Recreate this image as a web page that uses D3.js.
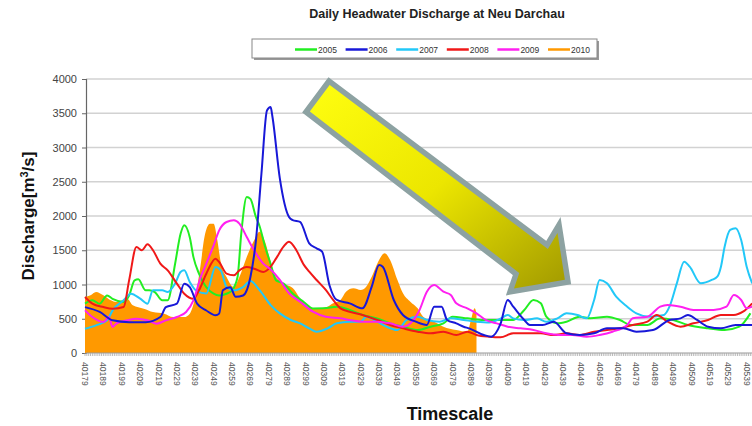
<!DOCTYPE html>
<html>
<head>
<meta charset="utf-8">
<script src="https://cdn.jsdelivr.net/npm/d3@7"></script>
<style>
  body { margin: 0; background: #fff; }
  svg { display: block; font-family: "Liberation Sans", Arial, sans-serif; }
</style>
</head>
<body>
<svg id="chart" width="752" height="426"></svg>
<script>
// series: day offset from 40179 and discharge in m3/s
var days2005 = [0,4,8,12,15,21,24,27,29,33,35,38,42,45,49,52,54,57,59,62,66,70,73,77,80,83,85,88,90,93,95,98,101,104,108,113,119,124,130,137,144,151,159,166,173,181,188,195,200,208,217,226,233,239,244,248,251,257,262,269,275,284,291,297,306,313,320,328,339,348,356,362];
var q2005 = [720,770,720,840,790,745,840,1060,1075,915,915,890,770,770,1300,1740,1865,1690,1400,1160,960,865,840,865,915,1110,1740,2277,2250,1985,1850,1550,1300,1060,1015,870,745,650,652,676,628,555,506,433,384,336,384,433,530,506,482,482,482,628,774,725,530,433,457,530,506,530,482,409,409,506,482,409,360,336,384,579];

var days2006 = [0,8,15,24,33,41,44,50,54,57,61,66,71,73,75,79,82,86,90,93,96,99,101,102,106,111,113,117,122,126,129,133,137,144,151,156,160,162,168,173,180,186,190,194,197,202,206,209,217,221,226,230,233,239,242,249,255,262,269,277,284,293,300,309,318,324,328,333,339,346,354,363];
var q2006 = [670,600,477,450,450,525,670,720,1010,960,720,620,550,575,915,960,820,840,1110,1645,2620,3540,3590,3445,2550,1985,1940,1915,1600,1528,1480,990,774,725,652,968,1285,1260,774,555,457,409,676,676,482,433,384,360,263,238,420,774,676,482,409,409,457,287,263,287,360,360,311,336,482,506,555,482,384,360,409,409];

var days2007 = [0,6,12,15,21,25,30,34,37,42,45,49,52,54,57,61,66,71,74,77,81,86,90,95,101,106,112,117,122,126,132,137,144,150,153,159,164,170,175,181,186,193,199,206,213,220,226,230,233,239,246,251,257,262,268,273,277,280,284,289,295,300,307,315,318,322,326,329,335,341,344,346,348,351,354,357,360,363];
var q2007 = [355,404,477,623,769,866,793,720,915,915,890,1012,1182,1207,1036,900,870,1255,1200,963,915,963,1050,918,700,579,482,433,360,311,360,433,457,457,530,457,384,336,482,530,482,457,506,482,457,445,500,555,506,482,506,457,506,579,555,506,774,1066,1017,822,676,579,530,555,676,1017,1333,1260,1017,1066,1114,1260,1552,1796,1820,1650,1260,1017];

var days2008 = [0,4,10,15,21,24,28,31,34,37,41,45,50,54,59,62,66,71,73,77,81,84,88,92,97,101,104,108,111,115,119,122,126,131,135,139,144,151,159,166,173,181,188,195,202,208,213,220,226,233,240,248,255,262,269,277,284,291,298,306,311,317,324,331,339,346,353,358,363];
var q2008 = [817,720,671,647,671,1060,1547,1500,1586,1500,1304,1207,1012,866,793,915,1158,1377,1328,1158,1134,1207,1255,1231,1182,1260,1382,1552,1625,1500,1290,1187,1066,920,774,652,603,555,482,409,360,311,287,311,263,311,263,238,230,287,287,287,263,287,263,311,336,360,409,457,555,457,384,433,482,555,555,603,725];

var days2009 = [0,4,10,13,15,17,23,28,34,39,44,50,55,59,63,66,70,73,77,81,84,88,92,97,101,106,111,117,124,131,139,144,151,159,166,173,178,182,186,190,195,199,202,208,213,218,224,230,237,244,251,258,265,273,280,287,295,298,306,313,317,324,331,342,349,353,357,360,363];
var q2009 = [623,525,452,525,380,428,477,500,477,428,477,525,598,769,1110,1304,1572,1790,1912,1937,1888,1693,1499,1304,1220,1066,871,749,603,530,506,482,457,457,433,384,457,628,895,993,895,847,725,652,579,482,433,384,360,336,287,263,263,238,263,311,409,506,530,676,700,676,628,628,676,847,774,652,676];

var days2010 = [0,3,6,10,14,17,23,26,32,37,43,48,54,57,60,63,65,68,70,72,74,77,81,84,88,92,95,98,101,103,106,110,113,117,122,126,132,135,139,142,146,150,153,156,160,163,166,170,173,177,181,184,190,195,202,208,210,212,213];
var q2010 = [817,842,890,842,769,745,793,696,647,598,574,525,525,574,817,1304,1693,1888,1888,1645,1304,1110,963,1110,1401,1645,1770,1620,1330,1158,1050,988,950,800,671,652,676,725,774,895,944,920,968,1114,1358,1455,1358,1066,871,749,652,530,457,384,336,311,482,652,579];

var years = ["2005","2006","2007","2008","2009","2010"];
var colors = ["#22ee22","#1818d8","#22c8f8","#f01818","#ff20f0","#ff9900"];

var yTicks = [0,500,1000,1500,2000,2500,3000,3500,4000];
var tickDays = [0,10,20,30,40,50,60,70,80,90,100,110,120,130,140,150,160,170,180,190,200,210,220,230,240,250,260,270,280,290,300,310,320,330,340,350,360];
var tickLabels = ["40179","40189","40199","40209","40219","40229","40239","40249","40259","40269","40279","40289","40299","40309","40319","40329","40339","40349","40359","40369","40379","40389","40399","40409","40419","40429","40439","40449","40459","40469","40479","40489","40499","40509","40519","40529","40539"];

// arrow annotation, in chart coordinates (day, value)
var arrowDays = [132.8,120.2,234.5,231.2,262.8,257.9,251.4];
var arrowVals = [3971,3518,1153,891,1036,1869,1577];

var svg = d3.select("#chart");

var x = d3.scaleLinear().domain([0, 365]).range([85, 85 + 1.838 * 365]);
var y = d3.scaleLinear().domain([0, 4000]).range([353, 79]);

// title
svg.append("text")
  .attr("x", 437).attr("y", 18)
  .attr("text-anchor", "middle")
  .style("font-weight", "bold").style("font-size", "12.5px")
  .attr("fill", "#222")
  .text("Daily Headwater Discharge at Neu Darchau");

// gridlines
svg.append("g").selectAll("line")
  .data(yTicks.filter(function(t) { return t > 0; }))
  .enter().append("line")
  .attr("x1", 86).attr("x2", 752)
  .attr("y1", function(d) { return y(d); })
  .attr("y2", function(d) { return y(d); })
  .attr("stroke", "#d2d2d2").attr("stroke-width", 1.6);

// y axis
var yAxis = d3.axisLeft(y).tickValues(yTicks).tickFormat(d3.format("d")).tickSize(4).tickPadding(5);
var gy = svg.append("g").attr("transform", "translate(86,0)").call(yAxis);
gy.select(".domain").attr("stroke", "#666").attr("stroke-width", 1.2);
gy.selectAll(".tick line").attr("stroke", "#666");
gy.selectAll("text").style("font-size", "11px").attr("fill", "#444")
  .style("font-family", "'Liberation Sans', Arial, sans-serif");

// area 2010
var area = d3.area()
  .x(function(d) { return x(d[0]); })
  .y0(y(0))
  .y1(function(d) { return y(d[1]); })
  .curve(d3.curveMonotoneX);
var pts2010 = days2010.map(function(d, i) { return [d, q2010[i]]; });
svg.append("path").datum(pts2010)
  .attr("d", area)
  .attr("fill", colors[5]);

// lines
var line = d3.line()
  .x(function(d) { return x(d[0]); })
  .y(function(d) { return y(d[1]); })
  .curve(d3.curveMonotoneX);
var lineSeries = [[days2005, q2005, colors[0]], [days2007, q2007, colors[2]], [days2008, q2008, colors[3]], [days2009, q2009, colors[4]], [days2006, q2006, colors[1]]];
lineSeries.forEach(function(s) {
  var pts = s[0].map(function(d, i) { return [d, s[1][i]]; });
  svg.append("path").datum(pts)
    .attr("d", line)
    .attr("fill", "none")
    .attr("stroke", s[2])
    .attr("stroke-width", 2)
    .attr("stroke-linejoin", "round");
});

// x axis with a small tick per day
svg.append("line")
  .attr("x1", 86).attr("x2", 752)
  .attr("y1", y(0)).attr("y2", y(0))
  .attr("stroke", "#999").attr("stroke-width", 1.2);
svg.append("g").selectAll("line")
  .data(d3.range(0, 366))
  .enter().append("line")
  .attr("x1", function(d) { return x(d); })
  .attr("x2", function(d) { return x(d); })
  .attr("y1", y(0)).attr("y2", y(0) + 3)
  .attr("stroke", "#aaa").attr("stroke-width", 0.8);

svg.append("g").selectAll("text")
  .data(tickDays)
  .enter().append("text")
  .attr("transform", function(d) { return "translate(" + (x(d) - 3) + ",362) rotate(90)"; })
  .style("font-size", "8.5px")
  .attr("fill", "#555")
  .text(function(d, i) { return tickLabels[i]; });

// axis titles
svg.append("text")
  .attr("transform", "translate(34,216) rotate(-90)")
  .attr("text-anchor", "middle")
  .style("font-weight", "bold").style("font-size", "17px")
  .attr("fill", "#111")
  .html('Discharge[m<tspan dy="-6" font-size="11px">3</tspan><tspan dy="6">/s]</tspan>');

svg.append("text")
  .attr("x", 450).attr("y", 420)
  .attr("text-anchor", "middle")
  .style("font-weight", "bold").style("font-size", "18px")
  .attr("fill", "#111")
  .text("Timescale");

// legend
var lg = svg.append("g");
lg.append("rect").attr("x", 254).attr("y", 41).attr("width", 345).attr("height", 19).attr("fill", "#999");
lg.append("rect").attr("x", 252).attr("y", 39).attr("width", 345).attr("height", 19)
  .attr("fill", "#fff").attr("stroke", "#888").attr("stroke-width", 1);
years.forEach(function(yr, i) {
  var lx = 295 + i * 50.6;
  lg.append("line").attr("x1", lx).attr("x2", lx + 22).attr("y1", 49.5).attr("y2", 49.5)
    .attr("stroke", colors[i]).attr("stroke-width", 2.5);
  lg.append("text").attr("x", lx + 23).attr("y", 52.5)
    .style("font-size", "8.5px").attr("fill", "#333").text(yr);
});

// arrow
var defs = svg.append("defs");
var grad = defs.append("linearGradient").attr("id", "arrowGrad")
  .attr("x1", 0).attr("y1", 0).attr("x2", 1).attr("y2", 1);
grad.append("stop").attr("offset", "0%").attr("stop-color", "#ffff10");
grad.append("stop").attr("offset", "50%").attr("stop-color", "#ece600");
grad.append("stop").attr("offset", "100%").attr("stop-color", "#a09800");

var arrowPts = arrowDays.map(function(d, i) { return [x(d), y(arrowVals[i])]; });
svg.append("path")
  .attr("d", d3.line()(arrowPts) + "Z")
  .attr("fill", "url(#arrowGrad)")
  .attr("stroke", "#8da2a2")
  .attr("stroke-width", 5.5)
  .attr("stroke-linejoin", "miter");
</script>
</body>
</html>
